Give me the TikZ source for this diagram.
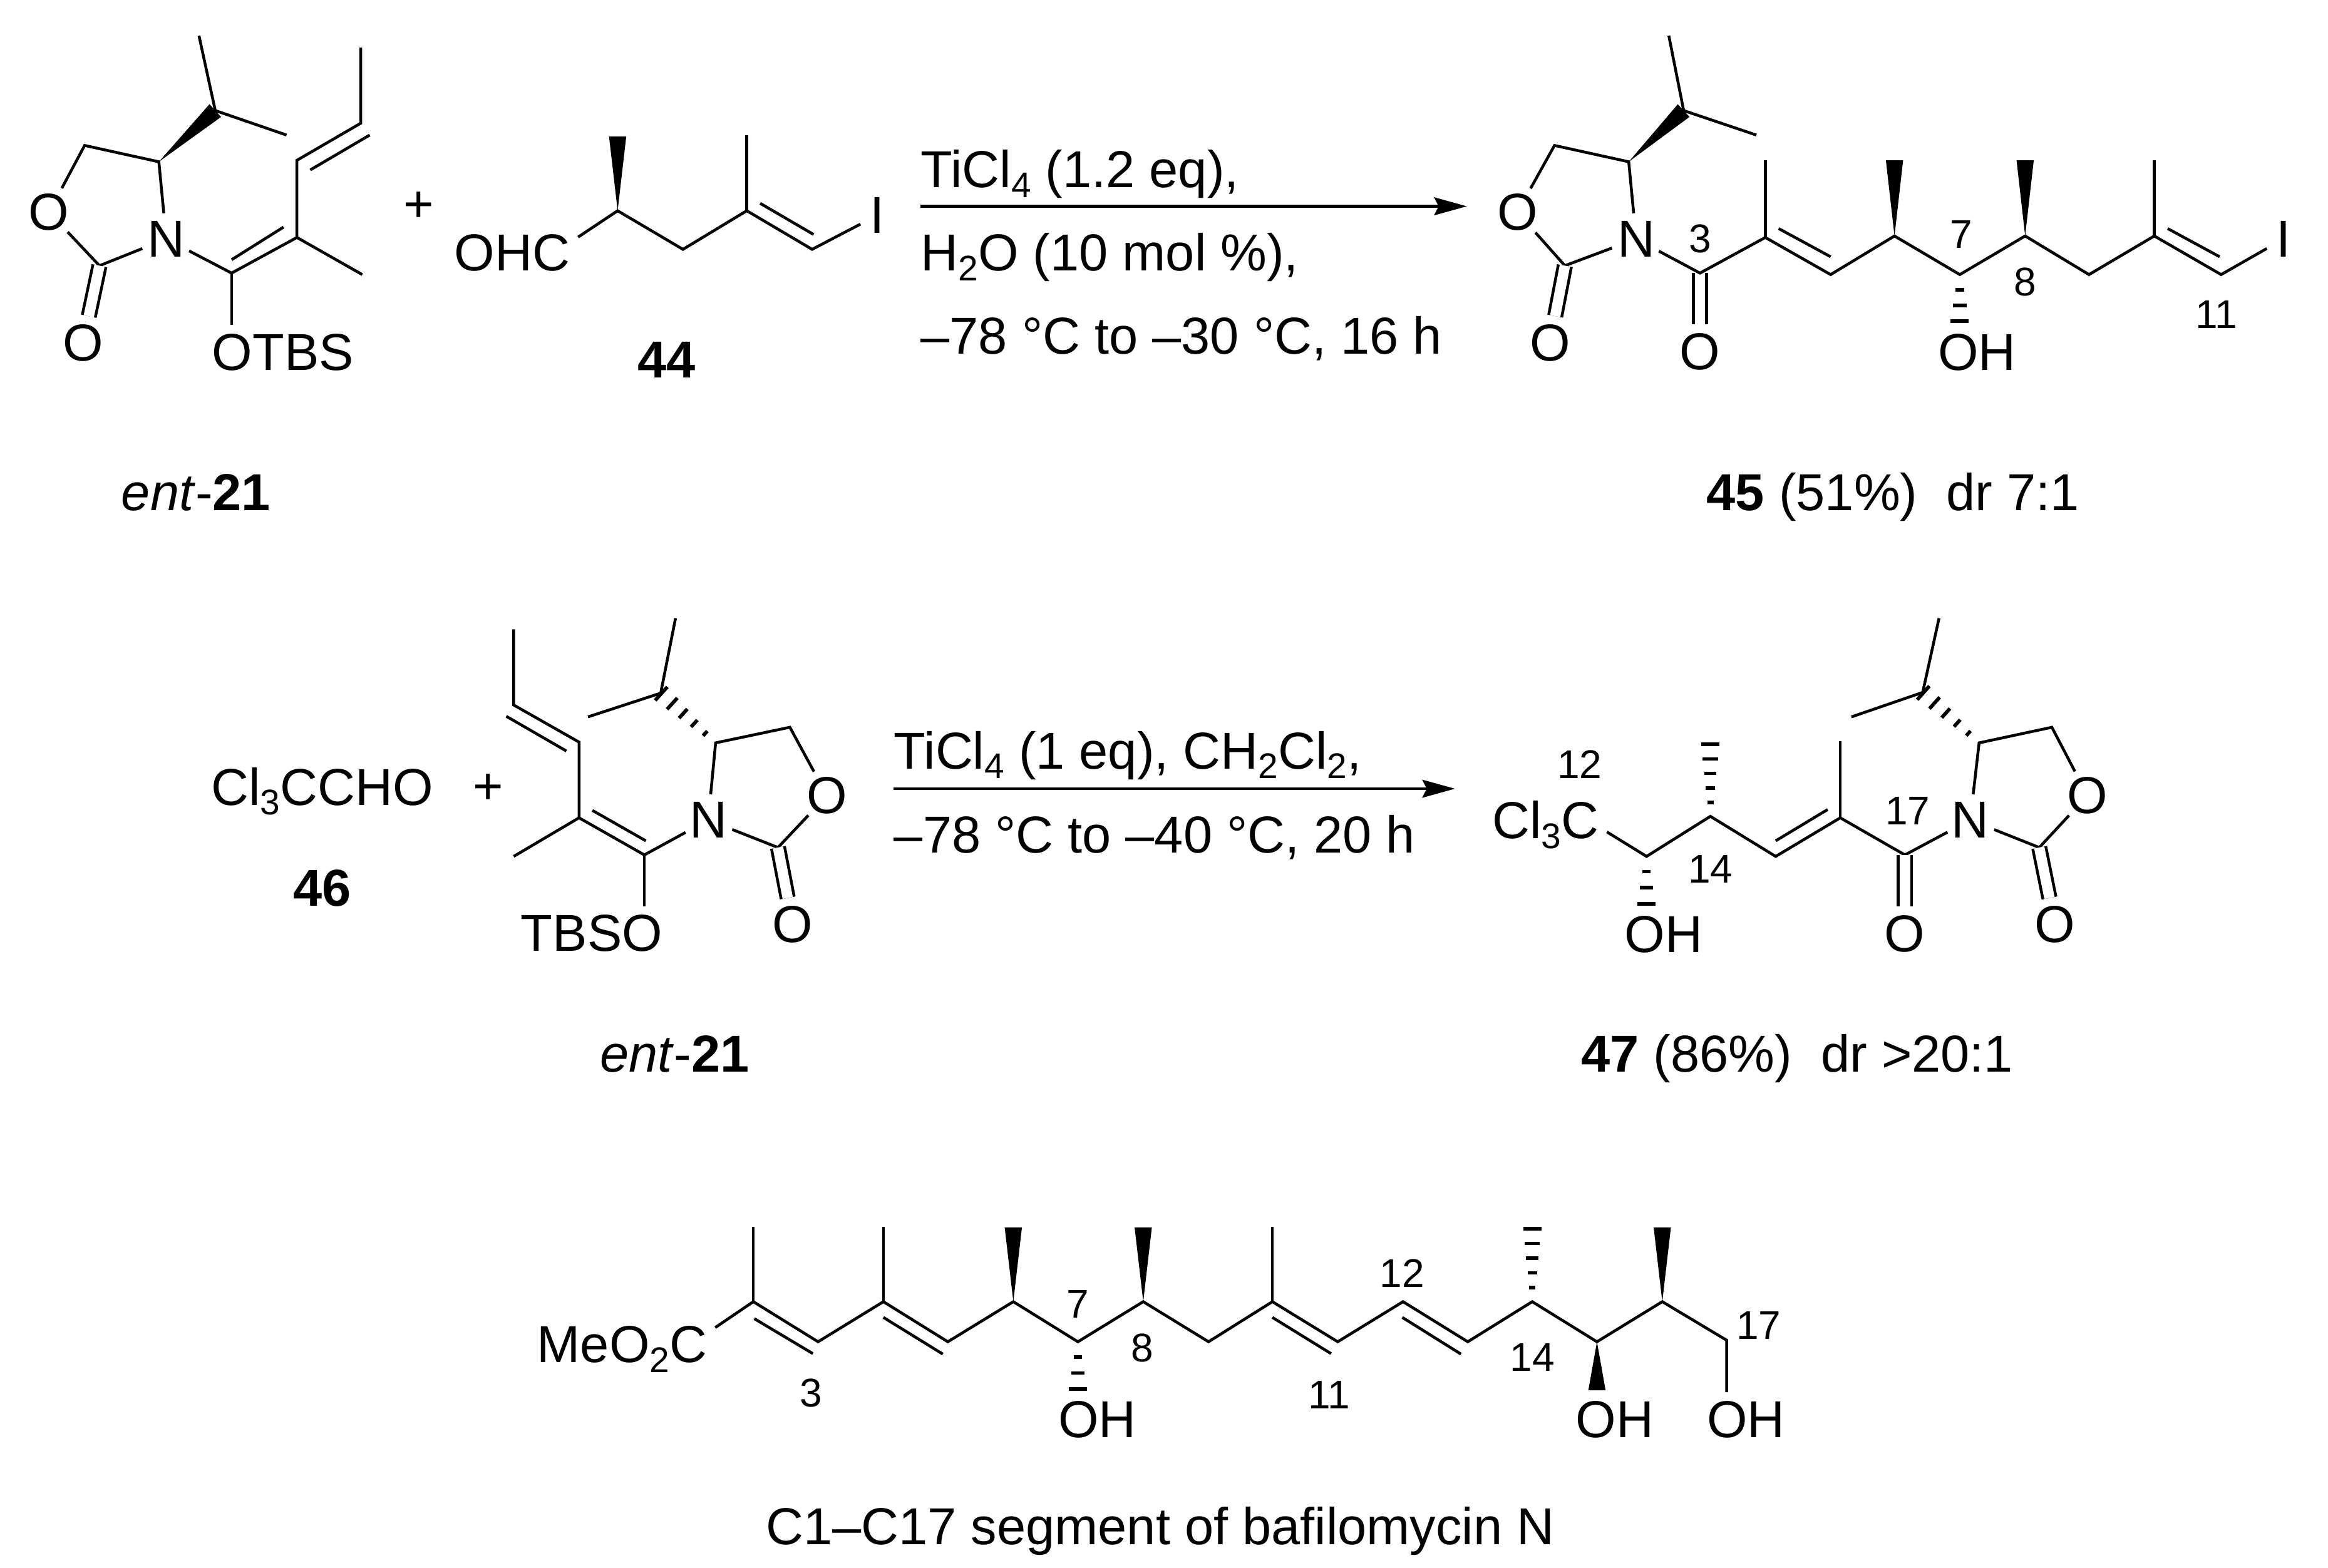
\documentclass[tikz,border=0pt]{standalone}
\usepackage{fontspec}
\setmainfont{Liberation Sans}
\usetikzlibrary{arrows.meta,calc}

\newcommand{\subs}[1]{\raisebox{-6.5pt}{\fontsize{24}{24}\selectfont #1}}

% solid wedge, narrow at the first name
\newcommand{\wedgebond}[2]{
	\fill ($(#1)$) -- ($(#2)!5.8pt!90:(#1)$) -- ($(#2)!5.8pt!-90:(#1)$) -- cycle;
}
% hashed wedge, narrow at the first name
\newcommand{\hashbond}[3]{
	\foreach \hi in {1,...,#3}{
		\pgfmathsetmacro{\hpos}{(\hi-0.05)/#3}
		\pgfmathsetmacro{\hwid}{1.2+\hpos*5}
		\draw[hashline] ($(#1)!\hpos!(#2)!\hwid pt!90:(#1)$) -- ($(#1)!\hpos!(#2)!\hwid pt!-90:(#1)$);
	}
}

\begin{document}
\begin{tikzpicture}[x=1pt,y=-1pt]
\tikzstyle{bond} = [line width=1.9pt];
\tikzstyle{hashline} = [line width=2.4pt];
\tikzstyle{carbonyl} = [line width=1.9pt, double, double distance=7pt];
\tikzstyle{atom} = [
	shape=circle,
	inner sep=0pt,
	outer sep=0pt,
	font=\fontsize{35}{40}\selectfont
];
\tikzstyle{txt} = [
	inner sep=5.5pt,
	outer sep=0pt,
	text height=25pt,
	text depth=0pt,
	font=\fontsize{35}{40}\selectfont
];
\tikzstyle{reagent} = [anchor=base west, inner sep=0pt, font=\fontsize{35}{40}\selectfont];
\tikzstyle{num} = [inner sep=0pt, font=\fontsize{27}{30}\selectfont];
\tikzstyle{rxnarrow} = [-{Stealth[length=22pt,width=12pt,inset=3pt]}, line width=1.9pt];

\path[use as bounding box, fill=white] (0,0) rectangle (1568,1056.4);

%first enol ether
\coordinate (aMe1) at (134,24);
\coordinate (aCH) at (145,74.5);
\coordinate (aMe2) at (193,91);
\coordinate (aC4) at (107,109);
\coordinate (aC5) at (57,98);
\coordinate (aC2) at (67,179);
\coordinate (aC6) at (156,184);
\coordinate (aC7) at (200,160);
\coordinate (aMe3) at (244,185);
\coordinate (aC8) at (200,108);
\coordinate (aC9) at (243,83);
\coordinate (aMe4) at (243,32);
\coordinate (aI1) at (156,175);
\coordinate (aI2) at (191,153);
\coordinate (aI3) at (209,114.5);
\coordinate (aI4) at (249,91);
\node[atom](aO1) at (33,143) {O};
\node[atom](aN) at (112,161) {N};
\node[atom](aO2) at (56,231) {O};
\node[txt](aOTBS) at (190.5,237) {OTBS};
\node[txt](aName) at (132,331.5) {\textit{ent}-\textbf{21}};
\draw[bond] (aMe1) -- (aCH) -- (aMe2);
\wedgebond{aC4}{aCH}
\draw[bond] (aO1) -- (aC5) -- (aC4) -- (aN) -- (aC2) -- (aO1);
\draw[carbonyl] (aC2) -- (aO2);
\draw[bond] (aN) -- (aC6) -- (aC7) -- (aMe3);
\draw[bond] (aC7) -- (aC8) -- (aC9) -- (aMe4);
\draw[bond] (aC6) -- (aC6 |- aOTBS.north);
\draw[bond] (aI1) -- (aI2);
\draw[bond] (aI3) -- (aI4);

\node[txt](plusA) at (282,137) {+};

%aldehyde
\coordinate (bC2) at (416,142);
\coordinate (bMe1) at (416,92);
\coordinate (bC3) at (460,168);
\coordinate (bC4) at (503,142);
\coordinate (bMe2) at (503,91);
\coordinate (bC5) at (547,168);
\coordinate (bI1) at (512,137);
\coordinate (bI2) at (548,158);
\node[txt](bOHC) at (345,170) {OHC};
\node[atom](bI) at (591,145) {I};
\node[txt](bName) at (449,242) {\textbf{44}};
\draw[bond] (bOHC.13) -- (bC2) -- (bC3) -- (bC4) -- (bC5) -- (bI);
\draw[bond] (bC4) -- (bMe2);
\draw[bond] (bI1) -- (bI2);
\wedgebond{bC2}{bMe1}

%first reaction
\coordinate (rA1) at (620,139);
\coordinate (rA2) at (988,139);
\draw[rxnarrow] (rA1) -- (rA2);
\node[reagent](rT1) at (620,126.5) {TiCl\subs{4} (1.2 eq),};
\node[reagent](rT2) at (620,182.5) {H\subs{2}O (10 mol \%),};
\node[reagent](rT3) at (620,238.5) {–78 °C to –30 °C, 16 h};

%first product
\coordinate (cMe1) at (1124,24);
\coordinate (cCH) at (1134,74.5);
\coordinate (cMe2) at (1183,91);
\coordinate (cC4) at (1097,109);
\coordinate (cC5) at (1047,98);
\coordinate (cC2) at (1054,179);
\coordinate (cC6) at (1145,184);
\coordinate (cC7) at (1189,160);
\coordinate (cMe3) at (1189,108);
\coordinate (cC8) at (1233,185);
\coordinate (cC9) at (1276,159);
\coordinate (cMe4) at (1276,108);
\coordinate (cC10) at (1320,185);
\coordinate (cOH) at (1320,217);
\coordinate (cC11) at (1364,159);
\coordinate (cMe5) at (1364,108);
\coordinate (cC12) at (1407,185);
\coordinate (cC13) at (1451,159);
\coordinate (cMe6) at (1451,108);
\coordinate (cC14) at (1496,185);
\coordinate (cI1) at (1198,154);
\coordinate (cI2) at (1233,173);
\coordinate (cI3) at (1460,154);
\coordinate (cI4) at (1495,173);
\node[atom](cO1) at (1022,143) {O};
\node[atom](cN) at (1102,161) {N};
\node[atom](cO2) at (1044,231) {O};
\node[atom](cO3) at (1145,237) {O};
\node[atom](cI) at (1538,161) {I};
\node[txt](cOHt) at (1331.5,237) {OH};
\node[num](cL3) at (1145,161) {3};
\node[num](cL7) at (1321,158) {7};
\node[num](cL8) at (1364,190) {8};
\node[num](cL11) at (1493,212) {11};
\node[txt](cName) at (1275,331.5) {\textbf{45} (51\%)\ \ dr 7:1};
\draw[bond] (cMe1) -- (cCH) -- (cMe2);
\wedgebond{cC4}{cCH}
\draw[bond] (cO1) -- (cC5) -- (cC4) -- (cN) -- (cC2) -- (cO1);
\draw[carbonyl] (cC2) -- (cO2);
\draw[carbonyl] (cC6) -- (cO3);
\draw[bond] (cN) -- (cC6) -- (cC7) -- (cC8) -- (cC9) -- (cC10) -- (cC11) -- (cC12) -- (cC13) -- (cC14) -- (cI);
\draw[bond] (cC7) -- (cMe3);
\draw[bond] (cC13) -- (cMe6);
\draw[bond] (cI1) -- (cI2);
\draw[bond] (cI3) -- (cI4);
\wedgebond{cC9}{cMe4}
\wedgebond{cC11}{cMe5}
\hashbond{cC10}{cOH}{3}

%second reaction, left side
\node[txt](dCl) at (217,530) {Cl\subs{3}CCHO};
\node[txt](dName) at (217,598) {\textbf{46}};
\node[txt](plusB) at (329,529) {+};

%second enol ether
\coordinate (eMe1) at (346,424);
\coordinate (eC1) at (346,475);
\coordinate (eC2) at (390,500);
\coordinate (eC3) at (390,551);
\coordinate (eMe2) at (346,577);
\coordinate (eC4) at (434,576);
\coordinate (eI1) at (341,482.6);
\coordinate (eI2) at (381.5,506);
\coordinate (eI3) at (399,546);
\coordinate (eI4) at (435,566.5);
\coordinate (eC5) at (482,500.5);
\coordinate (eC6) at (532,490);
\coordinate (eC7) at (524,571);
\coordinate (eCH) at (445,467);
\coordinate (eMe3) at (455,416.5);
\coordinate (eMe4) at (396,483);
\node[atom](eN) at (477,552.5) {N};
\node[atom](eO1) at (557,536) {O};
\node[atom](eO2) at (534,623) {O};
\node[txt](eTBSO) at (398.5,628.5) {TBSO};
\node[txt](eName) at (454.5,709.6) {\textit{ent}-\textbf{21}};
\draw[bond] (eMe1) -- (eC1) -- (eC2) -- (eC3) -- (eMe2);
\draw[bond] (eC3) -- (eC4) -- (eN);
\draw[bond] (eC4) -- (eC4 |- eTBSO.north);
\draw[bond] (eI1) -- (eI2);
\draw[bond] (eI3) -- (eI4);
\draw[bond] (eN) -- (eC5) -- (eC6) -- (eO1) -- (eC7) -- (eN);
\draw[carbonyl] (eC7) -- (eO2);
\draw[bond] (eMe3) -- (eCH) -- (eMe4);
\hashbond{eC5}{eCH}{5}

%second reaction
\coordinate (sA1) at (602,531.4);
\coordinate (sA2) at (980,531.4);
\draw[rxnarrow] (sA1) -- (sA2);
\node[reagent](sT1) at (602,518) {TiCl\subs{4} (1 eq), CH\subs{2}Cl\subs{2},};
\node[reagent](sT2) at (602,574.5) {–78 °C to –40 °C, 20 h};

%second product
\coordinate (fC1) at (1109,577);
\coordinate (fOH) at (1109,609.5);
\coordinate (fC2) at (1152,550);
\coordinate (fMe1) at (1152,501);
\coordinate (fC3) at (1196,577);
\coordinate (fC4) at (1239.5,551);
\coordinate (fMe2) at (1239.5,499.4);
\coordinate (fC5) at (1283,576);
\coordinate (fI1) at (1196,566.5);
\coordinate (fI2) at (1231,545.4);
\coordinate (fC6) at (1333,500.5);
\coordinate (fC7) at (1382,490);
\coordinate (fC8) at (1373.5,571);
\coordinate (fCH) at (1295,466.5);
\coordinate (fMe3) at (1306,416.5);
\coordinate (fMe4) at (1247,483);
\node[txt](fCl) at (1041,552.5) {Cl\subs{3}C};
\node[txt](fOHt) at (1120.5,629) {OH};
\node[atom](fO1) at (1283,629) {O};
\node[atom](fN) at (1327,552.5) {N};
\node[atom](fO2) at (1406,536) {O};
\node[atom](fO3) at (1384,623) {O};
\node[num](fL12) at (1064,515) {12};
\node[num](fL14) at (1152,585.5) {14};
\node[num](fL17) at (1285,546.5) {17};
\node[txt](fName) at (1210.5,709.6) {\textbf{47} (86\%)\ \ dr >20:1};
\draw[bond] (fCl.-11) -- (fC1) -- (fC2) -- (fC3) -- (fC4) -- (fC5) -- (fN);
\draw[bond] (fC4) -- (fMe2);
\draw[bond] (fI1) -- (fI2);
\draw[carbonyl] (fC5) -- (fO1);
\draw[bond] (fN) -- (fC6) -- (fC7) -- (fO2) -- (fC8) -- (fN);
\draw[carbonyl] (fC8) -- (fO3);
\draw[bond] (fMe3) -- (fCH) -- (fMe4);
\hashbond{fC6}{fCH}{5}
\hashbond{fC1}{fOH}{3}
\hashbond{fC2}{fMe1}{5}

%segment at the bottom
\coordinate (gC2) at (507.4,877);
\coordinate (gMe1) at (507.4,826.5);
\coordinate (gC3) at (551,904);
\coordinate (gC4) at (595,877);
\coordinate (gMe2) at (595,826.5);
\coordinate (gC5) at (638.4,904);
\coordinate (gC6) at (682.5,877);
\coordinate (gMe3) at (682.5,827);
\coordinate (gC7) at (726,904);
\coordinate (gOH1) at (726,936.4);
\coordinate (gC8) at (770,877);
\coordinate (gMe4) at (770,827);
\coordinate (gC9) at (814,904);
\coordinate (gC10) at (857,877);
\coordinate (gMe5) at (857,826.5);
\coordinate (gC11) at (901,904);
\coordinate (gC12) at (945,877);
\coordinate (gC13) at (988.6,904);
\coordinate (gC14) at (1032,877);
\coordinate (gMe6) at (1032,827.3);
\coordinate (gC15) at (1075.6,904);
\coordinate (gOH2) at (1075.6,936.7);
\coordinate (gC16) at (1119.6,877);
\coordinate (gMe7) at (1119.6,827);
\coordinate (gC17) at (1163,903);
\coordinate (gI1) at (508,888.4);
\coordinate (gI2) at (547.5,912);
\coordinate (gI3) at (595,887.6);
\coordinate (gI4) at (635,912.3);
\coordinate (gI5) at (857,887.6);
\coordinate (gI6) at (896.5,912);
\coordinate (gI7) at (944.5,887.6);
\coordinate (gI8) at (984,912.3);
\node[txt](gEster) at (419,905.5) {MeO\subs{2}C};
\node[txt](gOHa) at (739,956) {OH};
\node[txt](gOHb) at (1087.5,956) {OH};
\node[txt](gOHc) at (1176,956) {OH};
\node[num](gL3) at (546.4,938.5) {3};
\node[num](gL7) at (726,878.6) {7};
\node[num](gL8) at (769.5,908) {8};
\node[num](gL11) at (895.4,939.7) {11};
\node[num](gL12) at (944.5,857.8) {12};
\node[num](gL14) at (1032,914.5) {14};
\node[num](gL17) at (1184.6,893) {17};
\node[txt](gName) at (781.5,1028) {C1–C17 segment of bafilomycin N};
\draw[bond] (gEster.10) -- (gC2) -- (gC3) -- (gC4) -- (gC5) -- (gC6) -- (gC7) -- (gC8) -- (gC9) -- (gC10) -- (gC11) -- (gC12) -- (gC13) -- (gC14) -- (gC15) -- (gC16) -- (gC17) -- (gC17 |- gOHc.north);
\draw[bond] (gC2) -- (gMe1);
\draw[bond] (gC4) -- (gMe2);
\draw[bond] (gC10) -- (gMe5);
\draw[bond] (gI1) -- (gI2);
\draw[bond] (gI3) -- (gI4);
\draw[bond] (gI5) -- (gI6);
\draw[bond] (gI7) -- (gI8);
\wedgebond{gC6}{gMe3}
\wedgebond{gC8}{gMe4}
\wedgebond{gC16}{gMe7}
\wedgebond{gC15}{gOH2}
\hashbond{gC7}{gOH1}{3}
\hashbond{gC14}{gMe6}{5}

\end{tikzpicture}
\end{document}
